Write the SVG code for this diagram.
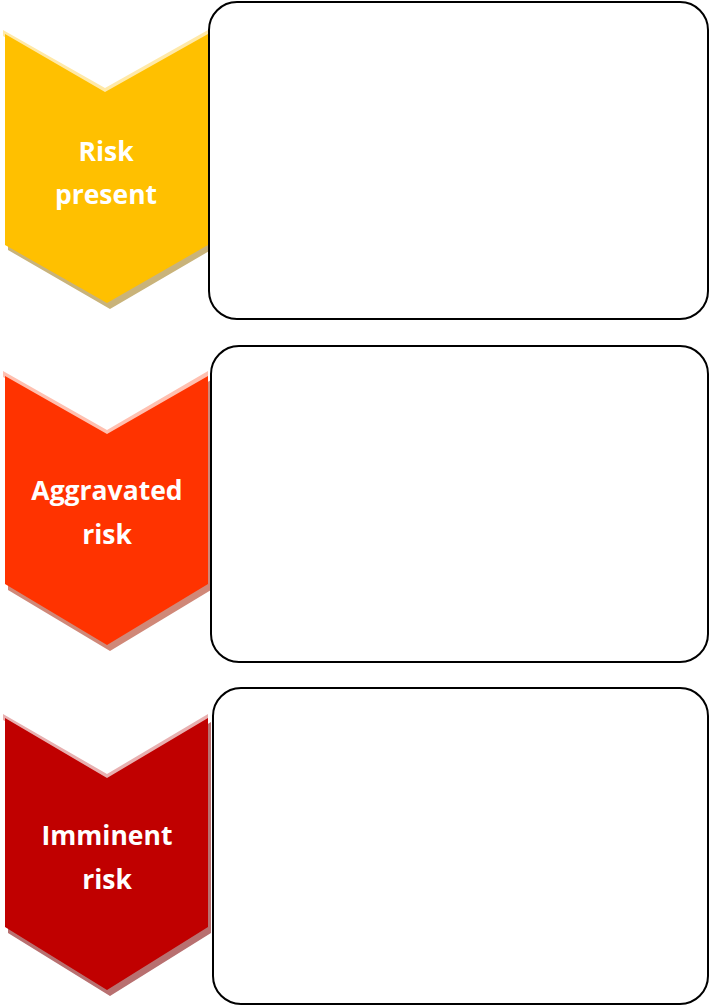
<svg xmlns="http://www.w3.org/2000/svg" width="709" height="1006" viewBox="0 0 709 1006">
<style>
.box{fill:#fff;stroke:#000;stroke-width:2}
.lbl{font-family:"Open Sans","Liberation Sans",sans-serif;font-weight:bold;font-size:26.5px;fill:#fff;text-anchor:middle}
</style>
<rect width="709" height="1006" fill="#fff"/>
<g id="chevron1">
<polygon points="8,37 108,97 211,37 211,250 110,309 8,250" fill="#c9b37a"/>
<polygon points="3,30 105,88 208,30 208,36 105,94 3,36" fill="#ffe9a8"/>
<polygon points="5,34 105,92 208,34 208,245 107,303 5,245" fill="#ffc000"/>
<text class="lbl" x="106" y="161">Risk</text>
<text class="lbl" x="106" y="204">present</text>
</g>
<g id="box1"><rect class="box" x="209" y="2" width="499" height="317" rx="28"/></g>
<g id="chevron2">
<polygon points="8,380 110,441 211,380 211,590 110,651 8,590" fill="#d08878"/>
<polygon points="3,371 107,430 208,371 208,377 107,436 3,377" fill="#ffc0b0"/>
<polygon points="5,376 107,434 208,376 208,584 107,645 5,584" fill="#ff3300"/>
<text class="lbl" x="107" y="500">Aggravated</text>
<text class="lbl" x="107" y="544">risk</text>
</g>
<g id="box2"><rect class="box" x="211" y="346" width="497" height="316" rx="28"/></g>
<g id="chevron3">
<polygon points="8,722 110,784 211,722 211,933 110,996 8,933" fill="#b87070"/>
<polygon points="3,714 107,774 208,714 208,720 107,780 3,720" fill="#e8b0b0"/>
<polygon points="5,718 107,778 208,718 208,927 107,990 5,927" fill="#c00000"/>
<text class="lbl" x="107" y="845">Imminent</text>
<text class="lbl" x="107" y="889">risk</text>
</g>
<g id="box3"><rect class="box" x="213" y="688" width="495" height="316" rx="28"/></g>
<g id="connectors"></g>
</svg>
